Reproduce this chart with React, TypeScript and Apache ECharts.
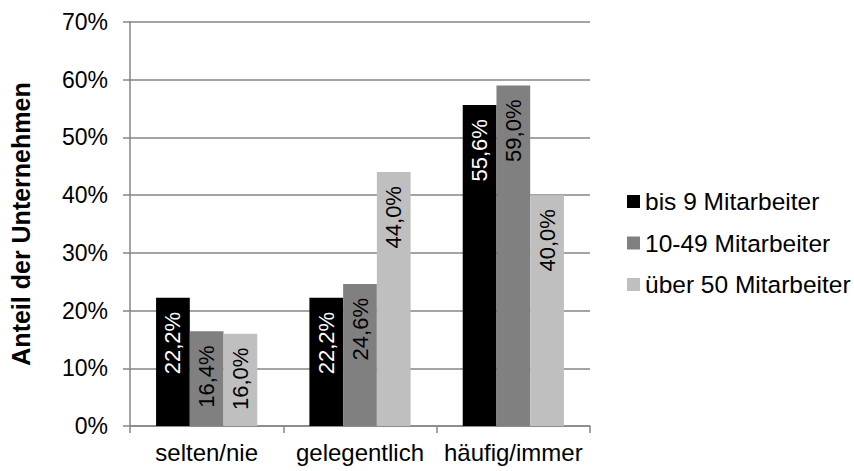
import React, { useEffect, useRef } from "react";
import * as echarts from "echarts";

const categories = ["selten/nie", "gelegentlich", "häufig/immer"];
const seriesNames = ["bis 9 Mitarbeiter", "10-49 Mitarbeiter", "über 50 Mitarbeiter"];
const small = [22.2, 22.2, 55.6];
const medium = [16.4, 24.6, 59.0];
const large = [16.0, 44.0, 40.0];
const colors = ["#000000", "#808080", "#bfbfbf"];
const labelColors = ["#ffffff", "#000000", "#000000"];
const yTicks = { min: 0, max: 70, interval: 10 };

const FONT = "'Liberation Sans', Arial, sans-serif";

export default function App() {
  const ref = useRef<HTMLDivElement>(null);
  useEffect(() => {
    if (!ref.current) return;
    const chart = echarts.init(ref.current, null, { renderer: "svg" });
    const data = [small, medium, large];
    chart.setOption({
      animation: false,
      backgroundColor: "#ffffff",
      textStyle: { fontFamily: FONT },
      grid: { left: 127, right: 264, top: 22, bottom: 45, containLabel: false },
      legend: {
        orient: "vertical",
        left: 627,
        top: 189,
        padding: 0,
        itemWidth: 13,
        itemHeight: 13,
        itemGap: 16.5,
        icon: "rect",
        textStyle: { fontFamily: FONT, fontSize: 24.5, color: "#000", lineHeight: 24 },
        data: seriesNames,
      },
      xAxis: {
        type: "category",
        data: categories,
        axisLine: { show: true, lineStyle: { color: "#868686", width: 1.5 } },
        axisTick: { show: true, length: 7, alignWithLabel: false, lineStyle: { color: "#868686", width: 1.5 } },
        axisLabel: { fontFamily: FONT, fontSize: 24, color: "#000", margin: 14, interval: 0, hideOverlap: false },
      },
      yAxis: {
        type: "value",
        min: yTicks.min,
        max: yTicks.max,
        interval: yTicks.interval,
        name: "Anteil der Unternehmen",
        nameLocation: "middle",
        nameGap: 97,
        nameTextStyle: { fontFamily: FONT, fontSize: 25, fontWeight: "bold", color: "#000" },
        axisLine: { show: true, lineStyle: { color: "#868686", width: 1.5 } },
        axisTick: { show: true, length: 7, lineStyle: { color: "#868686", width: 1.5 } },
        axisLabel: { fontFamily: FONT, fontSize: 23, color: "#000", margin: 22, formatter: "{value}%" },
        splitLine: { show: true, lineStyle: { color: "#868686", width: 1.5 } },
      },
      series: seriesNames.map((name, i) => ({
        name,
        type: "bar",
        data: data[i],
        barGap: "0%",
        barCategoryGap: "34%",
        itemStyle: { color: colors[i] },
        label: {
          show: true,
          position: "insideTop",
          distance: 14,
          rotate: 90,
          align: "right",
          verticalAlign: "middle",
          fontFamily: FONT,
          fontSize: 22,
          color: labelColors[i],
          formatter: (p: any) => p.value.toFixed(1).replace(".", ",") + "%",
        },
      })),
    });
    return () => chart.dispose();
  }, []);
  return (
    <div
      ref={ref}
      style={{ position: "fixed", left: 0, top: 0, width: 854, height: 471 }}
    />
  );
}
